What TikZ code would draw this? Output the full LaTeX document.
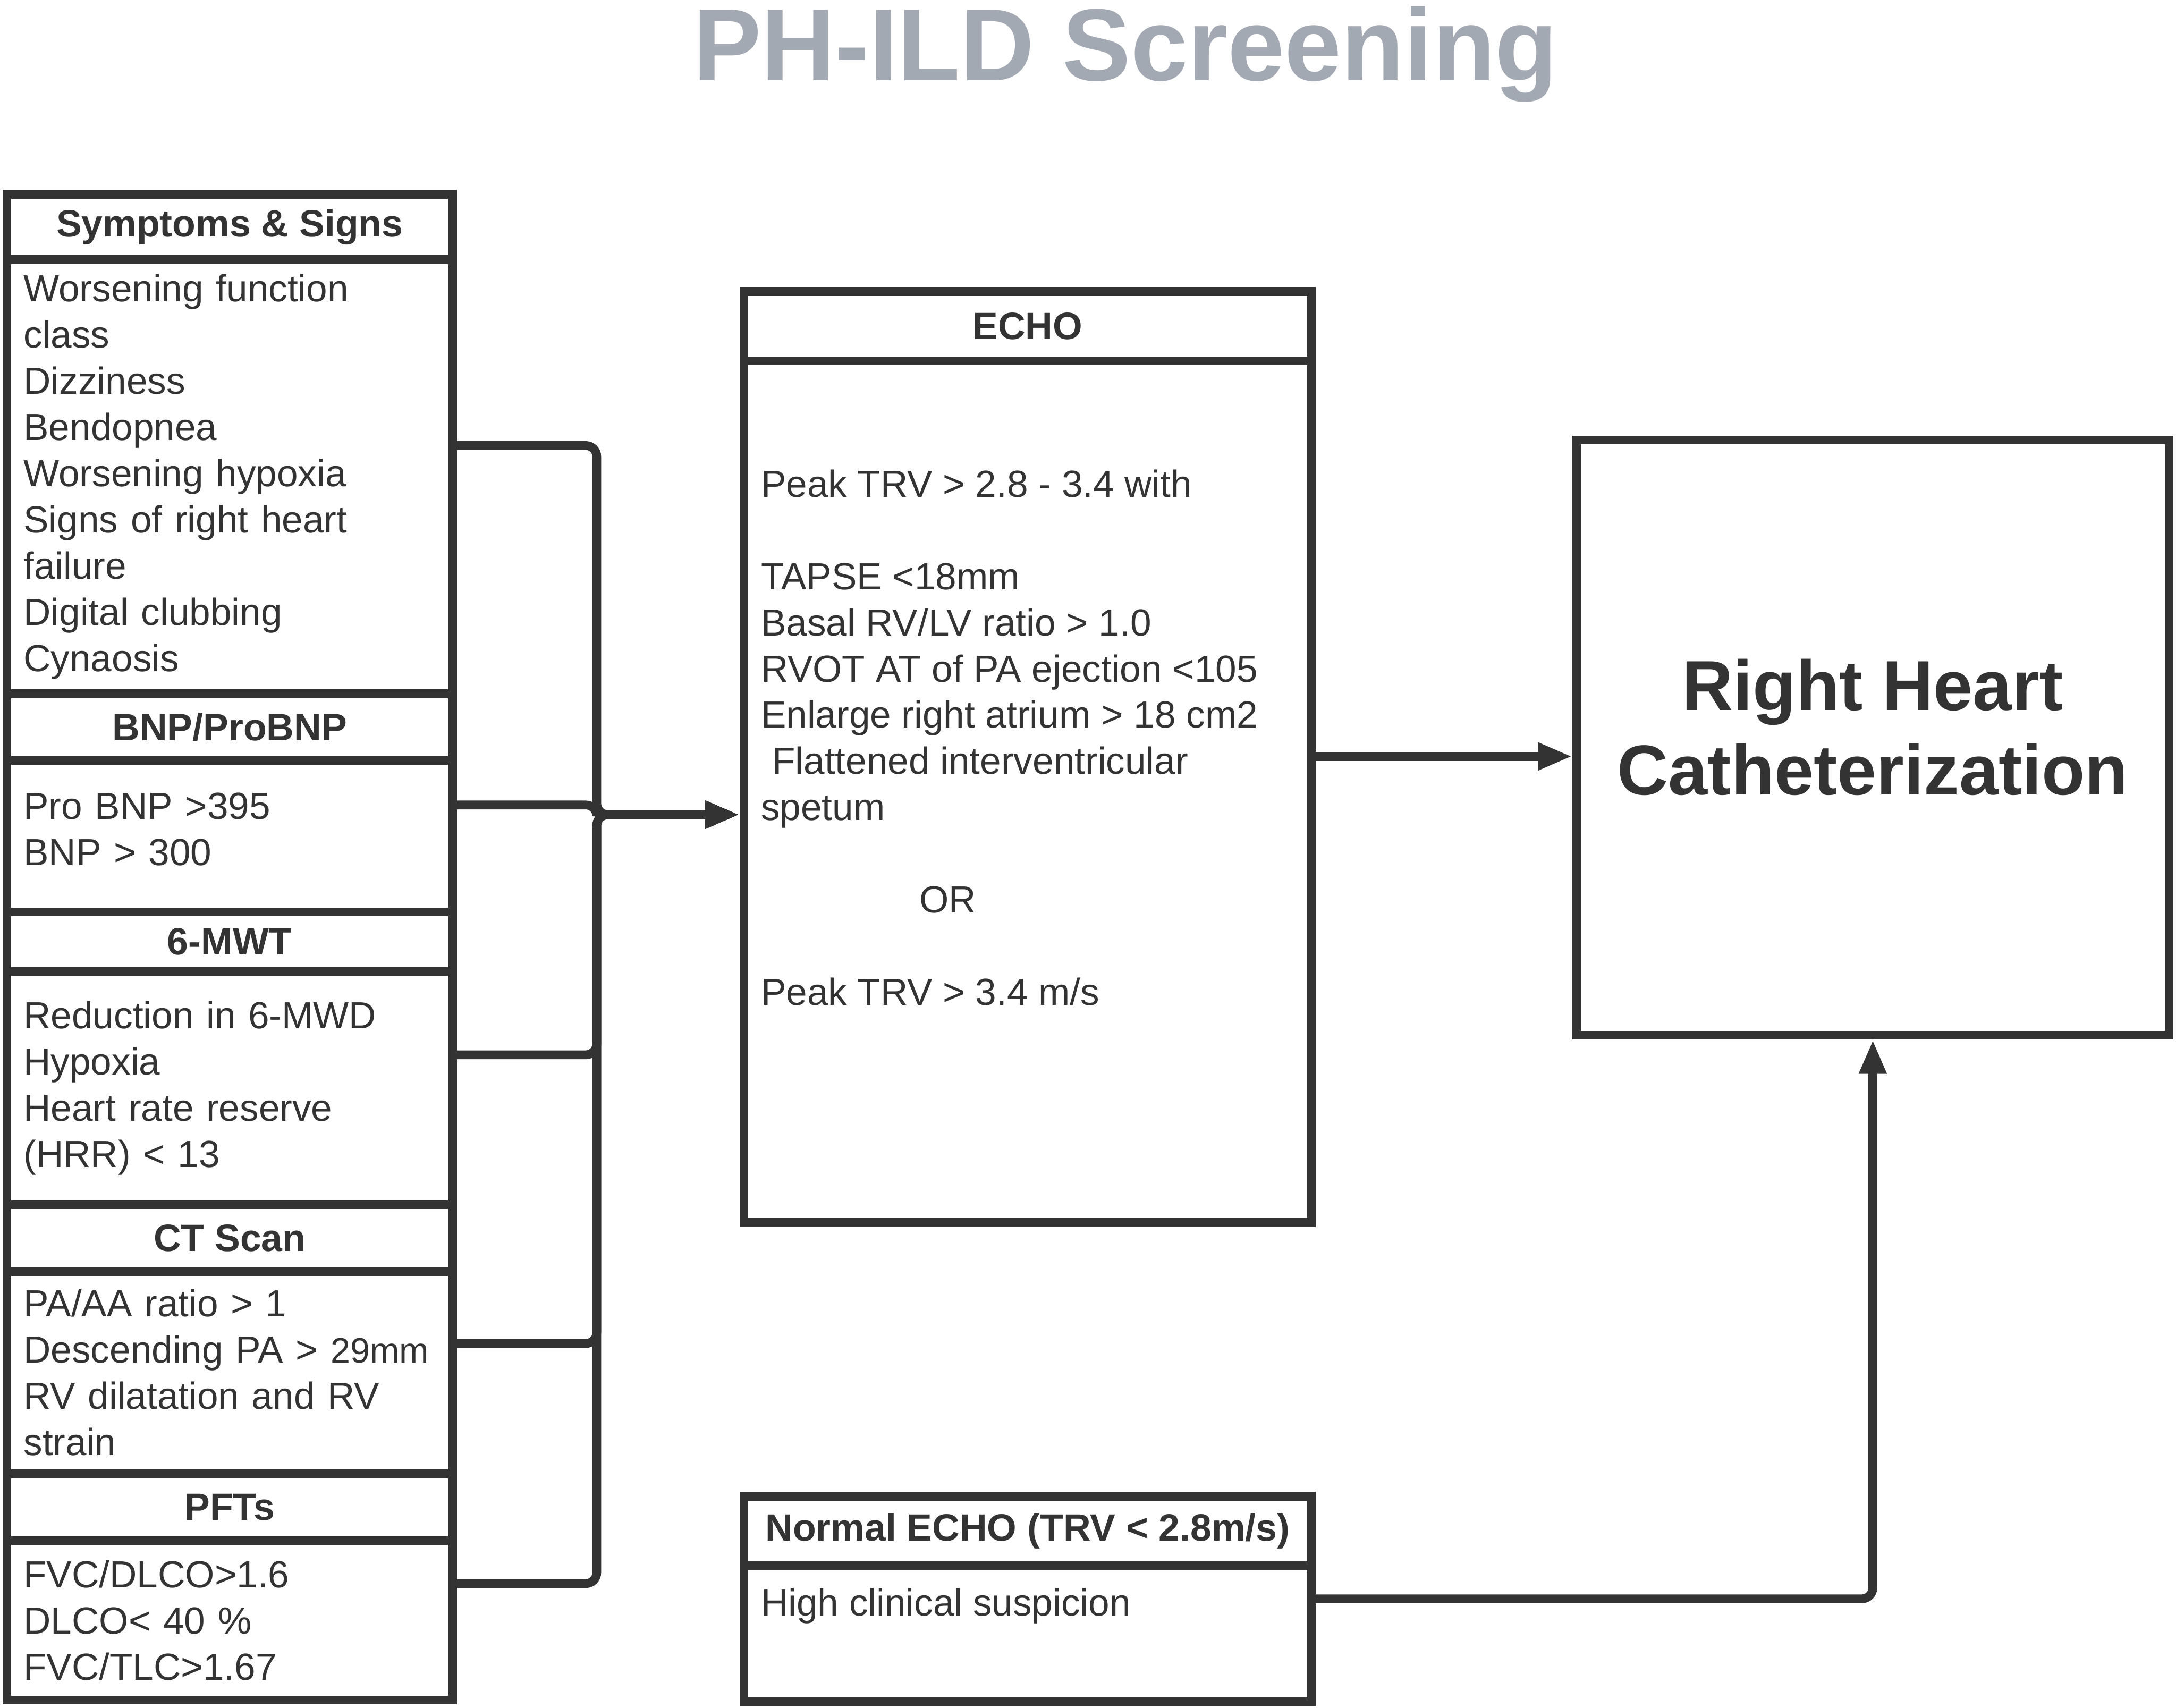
\documentclass[tikz,border=0pt]{standalone}
\usepackage{fontspec}
\setmainfont{Liberation Sans}
\usetikzlibrary{arrows.meta}
\definecolor{ink}{HTML}{333333}
\definecolor{ttl}{HTML}{A3A9B3}
\newcommand\bodyfont{\fontsize{15.5}{18.95}\selectfont}
\newcommand\hdrfont{\fontsize{15.6}{18.95}\selectfont\bfseries}
\begin{document}
\begin{tikzpicture}[x=0.02cm,y=-0.02cm,
  box/.style={draw=ink, line width=3.6pt, rectangle, inner sep=0pt, text=ink},
  hdr/.style={box, font=\hdrfont, align=center},
  lcol/.style={minimum width=6.42cm},
  lbody/.style={box, lcol, font=\bodyfont, align=left, text width=5.94cm},
  ecol/.style={minimum width=8.18cm},
  etext/.style={font=\bodyfont, align=left, inner sep=0pt, text=ink, anchor=north west},
  conn/.style={draw=ink, line width=3.6pt, rounded corners=4.5pt, -{Triangle[length=14pt,width=10.5pt]}}]
\useasboundingbox (0,0) rectangle (1568,1230.6);

% title
\node[font=\fontsize{42}{50}\selectfont\bfseries, text=ttl, anchor=base, inner sep=0pt] (title) at (811,58) {PH-ILD Screening};

% left column
\node[hdr, lcol, minimum height=0.94cm] (h1) at (165.5,163.5) {Symptoms \& Signs};
\node[lbody, minimum height=6.26cm] (b1) at (165.5,343.5) {Worsening function\\class\\Dizziness\\Bendopnea\\Worsening hypoxia\\Signs of right heart\\failure\\Digital clubbing\\Cynaosis};
\node[hdr, lcol, minimum height=0.96cm] (h2) at (165.5,524) {BNP/ProBNP};
\node[lbody, minimum height=2.18cm] (b2) at (165.5,602.5) {Pro BNP >395\\BNP > 300\rule[-6pt]{0pt}{6pt}};
\node[hdr, lcol, minimum height=0.86cm] (h3) at (165.5,678.5) {6-MWT};
\node[lbody, minimum height=3.36cm] (b3) at (165.5,784) {Reduction in 6-MWD\\Hypoxia\\Heart rate reserve\\(HRR) < 13};
\node[hdr, lcol, minimum height=0.96cm] (h4) at (165.5,892) {CT Scan};
\node[lbody, minimum height=2.92cm] (b4) at (165.5,989) {PA/AA ratio > 1\\\mbox{Descending PA > {\fontsize{14.5}{16}\selectfont 29mm}}\\RV dilatation and RV\\strain};
\node[hdr, lcol, minimum height=0.96cm] (h5) at (165.5,1086) {PFTs};
\node[lbody, minimum height=2.30cm] (b5) at (165.5,1167.5) {FVC/DLCO>1.6\\DLCO< 40 \%\\FVC/TLC>1.67};

% ECHO
\node[hdr, ecol, minimum height=1.0cm] (eh) at (740.5,235) {ECHO};
\node[box, ecol, minimum height=12.42cm] (eb) at (740.5,570.5) {};
\node[etext] (et) at (548,338) {Peak TRV > 2.8 - 3.4 with\\[18.95pt]TAPSE <18mm\\Basal RV/LV ratio > 1.0\\RVOT AT of PA ejection <105\\Enlarge right atrium > 18 cm2\\\hspace*{0.3em}Flattened interventricular\\spetum\\[18.95pt]\hspace*{65pt}OR\\[18.95pt]Peak TRV > 3.4 m/s};

% Normal ECHO
\node[hdr, ecol, minimum height=1.0cm] (nh) at (740.5,1103) {Normal ECHO (TRV < 2.8m/s)};
\node[box, ecol, minimum height=1.96cm] (nb) at (740.5,1177) {};
\node[etext] (nt) at (548,1144) {High clinical suspicion};

% RHC
\node[box, minimum width=8.54cm, minimum height=8.58cm, font=\fontsize{29}{34.7}\selectfont\bfseries, align=center] (rhc) at (1349.5,531.5) {Right Heart\\Catheterization\rule[-9pt]{0pt}{9pt}};

% connectors
\coordinate (jn) at (430,587);
\draw[conn] (b1.east |- 0,321) -| (jn) -- (eb.west |- jn);
\draw[conn] (b2.east |- 0,580) -| (jn) -- (eb.west |- jn);
\draw[conn] (b3.east |- 0,760) -| (jn) -- (eb.west |- jn);
\draw[conn] (b4.east |- 0,968) -| (jn) -- (eb.west |- jn);
\draw[conn] (b5.east |- 0,1141) -| (jn) -- (eb.west |- jn);
\draw[conn] (eb.east |- 0,545) -- (rhc.west |- 0,545);
\draw[conn] (nb.east |- 0,1152) -| (rhc.south);
\end{tikzpicture}
\end{document}
